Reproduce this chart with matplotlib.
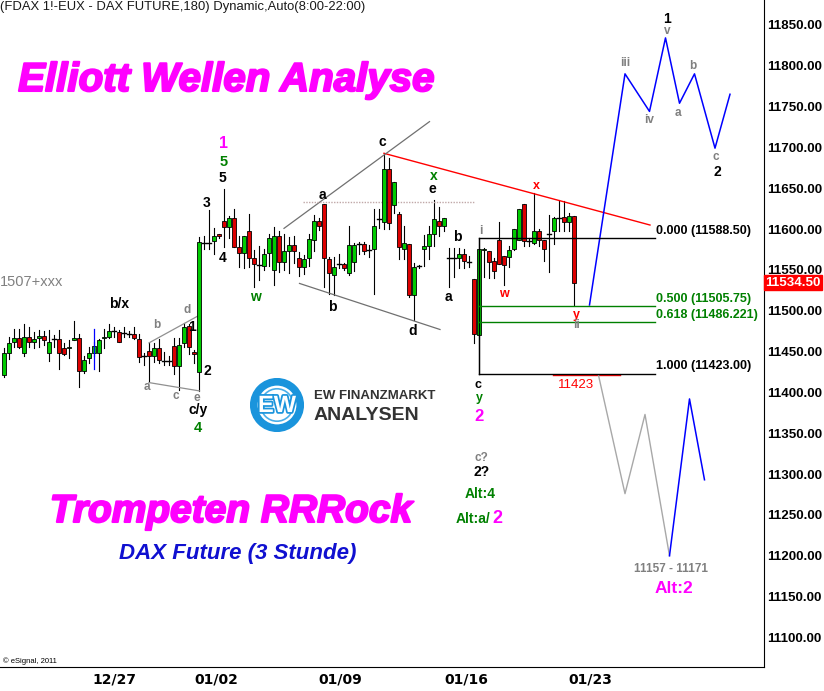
import matplotlib
matplotlib.use('Agg')
import matplotlib.pyplot as plt
import matplotlib.patheffects as pe
from matplotlib.patches import Circle, Rectangle
import numpy as np

plt.rcParams['font.family'] = ['Liberation Sans', 'DejaVu Sans']

# 3-hour FDAX candles (open, high, low, close), one entry per bar
opens = [11421, 11448, 11462, 11467, 11448, 11468, 11462, 11466, 11469, 11448,
         11465, 11465, 11454, 11454, 11464, 11467, 11426, 11442, 11448, 11448,
         11466, 11468, 11475, 11474, 11473, 11472, 11472, 11465, 11445, 11451,
         11444, 11454, 11439, 11439, 11457, 11432, 11460, 11481, 11450, 11425,
         11583, 11583, 11585, 11594, 11610, 11602, 11614, 11578, 11571, 11598,
         11564, 11556, 11555, 11571, 11550, 11592, 11560, 11573, 11580, 11564,
         11554, 11564, 11587, 11610, 11631, 11563, 11544, 11557, 11557, 11546,
         11560, 11582, 11582, 11574, 11576, 11612, 11609, 11674, 11629, 11618,
         11576, 11582, 11519, 11555, 11575, 11579, 11594, 11610, 11604, 11565,
         11565, 11564, 11570, 11560, 11539, 11470, 11574, 11573, 11561, 11587,
         11567, 11566, 11575, 11587, 11631, 11585, 11583, 11598, 11587, 11594,
         11597, 11614, 11615, 11609, 11616]
highs = [11454, 11468, 11477, 11477, 11484, 11480, 11474, 11476, 11475, 11476,
         11470, 11476, 11460, 11464, 11488, 11471, 11444, 11455, 11462, 11465,
         11478, 11484, 11480, 11476, 11480, 11475, 11480, 11472, 11448, 11460,
         11460, 11465, 11450, 11444, 11467, 11466, 11485, 11484, 11452, 11590,
         11592, 11623, 11601, 11594, 11649, 11616, 11625, 11591, 11592, 11618,
         11574, 11579, 11576, 11594, 11603, 11597, 11594, 11590, 11591, 11572,
         11568, 11594, 11617, 11614, 11631, 11566, 11566, 11569, 11559, 11604,
         11583, 11584, 11584, 11581, 11624, 11625, 11693, 11687, 11658, 11621,
         11604, 11582, 11559, 11556, 11593, 11604, 11636, 11627, 11613, 11577,
         11577, 11577, 11576, 11567, 11539, 11588, 11577, 11573, 11565, 11608,
         11567, 11579, 11600, 11625, 11631, 11589, 11644, 11600, 11587, 11617,
         11615, 11635, 11634, 11620, 11616]
lows = [11419, 11441, 11456, 11454, 11444, 11456, 11454, 11456, 11458, 11439,
        11456, 11429, 11446, 11442, 11464, 11406, 11424, 11436, 11444, 11426,
        11454, 11466, 11468, 11462, 11468, 11468, 11465, 11437, 11433, 11413,
        11437, 11436, 11433, 11433, 11422, 11403, 11456, 11447, 11436, 11402,
        11576, 11576, 11569, 11589, 11578, 11589, 11578, 11553, 11552, 11553,
        11529, 11537, 11550, 11555, 11531, 11548, 11550, 11546, 11558, 11543,
        11545, 11555, 11573, 11599, 11529, 11521, 11519, 11552, 11550, 11544,
        11549, 11569, 11570, 11566, 11520, 11601, 11600, 11600, 11620, 11563,
        11563, 11517, 11489, 11552, 11555, 11563, 11579, 11591, 11597, 11529,
        11541, 11552, 11552, 11554, 11461, 11423, 11541, 11540, 11540, 11557,
        11531, 11554, 11574, 11587, 11579, 11579, 11582, 11579, 11561, 11547,
        11582, 11597, 11597, 11598, 11507]
closes = [11448, 11461, 11467, 11456, 11468, 11462, 11465, 11469, 11464, 11462,
          11465, 11448, 11447, 11456, 11467, 11426, 11440, 11448, 11457, 11464,
          11468, 11475, 11475, 11462, 11473, 11472, 11466, 11443, 11445, 11444,
          11454, 11440, 11439, 11439, 11432, 11458, 11480, 11456, 11447, 11584,
          11583, 11583, 11592, 11591, 11603, 11613, 11578, 11571, 11592, 11565,
          11557, 11556, 11570, 11589, 11592, 11560, 11573, 11580, 11573, 11554,
          11563, 11588, 11610, 11604, 11565, 11546, 11554, 11557, 11552, 11580,
          11580, 11582, 11573, 11574, 11604, 11612, 11674, 11607, 11658, 11578,
          11583, 11519, 11554, 11555, 11579, 11594, 11612, 11604, 11613, 11565,
          11565, 11570, 11561, 11560, 11471, 11575, 11575, 11560, 11549, 11557,
          11556, 11574, 11600, 11625, 11585, 11585, 11598, 11587, 11576, 11594,
          11613, 11614, 11608, 11616, 11534.5]
last_price = 11534.50

date_labels = ['12/27', '01/02', '01/09', '01/16', '01/23']
date_pos = [22.0, 42.4, 67.2, 92.4, 117.2]
price_ticks = np.arange(11100, 11851, 50)

# Fibonacci retracement of the last swing
fib_high = 11588.50
fib_low = 11423.00
fib_levels = [0.0, 0.5, 0.618, 1.0]

# trend / wedge lines (bar index, price)
red_line_x, red_line_y = [76, 129.2], [11692.7, 11604.9]
wedge_up_x, wedge_up_y = [56, 85.1], [11600.8, 11731.5]
wedge_lo_x, wedge_lo_y = [59.1, 87.2], [11533.4, 11477.0]
dotted_x, dotted_y = [59.9, 94.2], [11632.7, 11632.7]
tri_up_x, tri_up_y = [29, 39.1], [11460.6, 11494.6]
tri_lo_x, tri_lo_y = [29, 39.1], [11412.0, 11401.8]
mark_x, mark_y = [109.8, 123.2], [11421, 11421]

# projected wave paths
main_path_x = [117.1, 124.2, 129.1, 132.3, 135.1, 138.1, 142.2, 145.2]
main_path_y = [11507, 11790, 11744, 11834, 11754, 11790, 11699, 11765]
alt_gray_x = [118.9, 124.2, 128.2, 133.1]
alt_gray_y = [11421, 11276, 11373, 11200]
alt_blue_x = [133.1, 137.1, 140.1]
alt_blue_y = [11200, 11392, 11293]

GREEN = '#008000'
GRAY = '#808080'
MAG = '#FF00FF'
RED = '#FF0000'

W, H = 824, 691
fig = plt.figure(figsize=(W / 100, H / 100), dpi=100)
ax = fig.add_axes([0, 24 / H, 764 / W, 667 / H])
ax.set_xlim(-0.8, 152)
ax.set_ylim(11063.8, 11880.4)

# candles
for i in range(len(opens)):
    o, h, l, c = opens[i], highs[i], lows[i], closes[i]
    ax.plot([i, i], [l, h], color='black', lw=0.8, zorder=2)
    if abs(c - o) < 0.5:
        ax.plot([i - 0.35, i + 0.35], [c, c], color='black', lw=1.0, zorder=3)
    else:
        col = '#00CC00' if c > o else '#DD0000'
        ax.add_patch(Rectangle((i - 0.32, min(o, c)), 0.64, abs(c - o),
                               facecolor=col, edgecolor='black', lw=0.6, zorder=3))

ax.plot([18, 18], [11429, 11478], color='blue', lw=0.9, zorder=4)

# lines
ax.plot(red_line_x, red_line_y, color=RED, lw=1.0)
ax.plot(wedge_up_x, wedge_up_y, color='#707070', lw=0.9)
ax.plot(wedge_lo_x, wedge_lo_y, color='#707070', lw=0.9)
ax.plot(dotted_x, dotted_y, color='#C0A8A8', lw=1.0, ls=(0, (1, 1)))
ax.plot(tri_up_x, tri_up_y, color='#909090', lw=0.9)
ax.plot(tri_lo_x, tri_lo_y, color='#909090', lw=0.9)
ax.plot(mark_x, mark_y, color=RED, lw=1.0)

# fib retracement
fib_x0, fib_x1 = 95, 130.2
ax.plot([fib_x0, fib_x0], [fib_low, fib_high], color='black', lw=1.0, zorder=4)
for lvl in fib_levels:
    price = fib_high - lvl * (fib_high - fib_low)
    col = 'black' if lvl in (0.0, 1.0) else GREEN
    ax.plot([fib_x0, fib_x1], [price, price], color=col, lw=1.0, zorder=4)
    s = f"{price:.3f}"
    if s.endswith('0'):
        s = s[:-1]
    ax.text(fib_x1 + 0.2, price + 9, f"{lvl:.3f} ({s})", color=col,
            fontsize=9, fontweight='bold', ha='left', va='center')

# projections
ax.plot(main_path_x, main_path_y, color='blue', lw=1.1)
ax.plot(alt_gray_x, alt_gray_y, color='#A8A8A8', lw=1.0)
ax.plot(alt_blue_x, alt_blue_y, color='blue', lw=1.1)

# wave labels
labels = [
    ('b/x', 23.0, 11508, 'black', 10), ('b', 30.6, 11482, GRAY, 8.5),
    ('d', 36.6, 11501, GRAY, 8.5), ('a', 28.6, 11406, GRAY, 8.5),
    ('c', 34.4, 11395, GRAY, 8.5), ('e', 38.6, 11393, GRAY, 8.5),
    ('1', 37.7, 11480, 'black', 10), ('2', 40.7, 11426, 'black', 10),
    ('c/y', 38.8, 11378, 'black', 10), ('4', 38.8, 11357, GREEN, 10.5),
    ('3', 40.6, 11632, 'black', 10), ('4', 43.7, 11565, 'black', 10),
    ('5', 43.7, 11662, 'black', 10), ('5', 43.9, 11682, GREEN, 10.5),
    ('1', 43.9, 11705, MAG, 11.5), ('w', 50.2, 11517, GREEN, 10),
    ('a', 63.7, 11642, 'black', 10), ('b', 65.7, 11505, 'black', 10),
    ('c', 75.7, 11706, 'black', 10), ('x', 85.9, 11665, GREEN, 10),
    ('e', 85.7, 11649, 'black', 10), ('d', 81.7, 11475, 'black', 10),
    ('a', 88.9, 11517, 'black', 10), ('b', 90.7, 11590, 'black', 10),
    ('i', 95.3, 11598, GRAY, 8.5), ('w', 99.9, 11521, RED, 9),
    ('x', 106.5, 11653, RED, 9), ('y', 114.4, 11495, RED, 9),
    ('ii', 114.5, 11482, GRAY, 8.5), ('c', 94.9, 11409, 'black', 9),
    ('y', 95.0, 11393, GREEN, 9), ('2', 95.0, 11370, MAG, 12),
    ('c?', 95.4, 11320, GRAY, 8.5), ('2?', 95.5, 11302, 'black', 10),
    ('Alt:4', 95.2, 11276, GREEN, 10),
    ('iii', 124.2, 11803, GRAY, 8.5), ('iv', 129.1, 11733, GRAY, 8.5),
    ('v', 132.7, 11842, GRAY, 8.5), ('1', 132.7, 11857, 'black', 10),
    ('a', 134.7, 11742, GRAY, 8.5), ('b', 137.7, 11800, GRAY, 8.5),
    ('c', 142.3, 11688, GRAY, 8.5), ('2', 142.7, 11670, 'black', 10),
    ('11157 - 11171', 133.5, 11184, GRAY, 8.5), ('Alt:2', 133.9, 11160, MAG, 12.5),
]
for txt, x, y, col, size in labels:
    ax.text(x, y, txt, color=col, fontsize=size, fontweight='bold',
            ha='center', va='center', zorder=6)
ax.text(97.3, 11245, 'Alt:a/', color=GREEN, fontsize=10, fontweight='bold',
        ha='right', va='center')
ax.text(97.7, 11245, '2', color=MAG, fontsize=13, fontweight='bold',
        ha='left', va='center')
ax.text(114.4, 11409, '11423', color=RED, fontsize=9.5, ha='center', va='center')
ax.text(-0.8, 11535, '1507+xxx', color=GRAY, fontsize=10.5, ha='left', va='center')

# axes styling
for side in ('top', 'left'):
    ax.spines[side].set_visible(False)
ax.yaxis.tick_right()
ax.set_yticks(price_ticks)
ax.set_yticklabels([f"{v:.2f}" for v in price_ticks], fontweight='bold')
ax.set_xticks(date_pos)
ax.set_xticklabels(date_labels, fontweight='bold',
                   fontfamily=['Liberation Sans Narrow', 'DejaVu Sans'])
ax.tick_params(axis='y', length=0, pad=2, labelsize=9.6)
ax.tick_params(axis='x', length=0, pad=4, labelsize=10)
ax.text(1.002, last_price, f"{last_price:.2f}", transform=ax.get_yaxis_transform(),
        color='white', fontsize=9.6, fontweight='bold', ha='left', va='center',
        bbox=dict(boxstyle='square,pad=0.1', fc=RED, ec=RED), zorder=10, clip_on=False)

# header and big titles
fig.text(0.5 / W, 1 - 7 / H, '(FDAX 1!-EUX - DAX FUTURE,180) Dynamic,Auto(8:00-22:00)',
         fontsize=9.4, color='#1a1a1a', ha='left', va='center')
stroke = [pe.withStroke(linewidth=1.5, foreground=MAG)]
fig.text(226 / W, 1 - 80 / H, 'Elliott Wellen Analyse', color=MAG, fontsize=29,
         fontweight='bold', fontstyle='italic', ha='center', va='center',
         path_effects=stroke)
fig.text(231 / W, 1 - 512 / H, 'Trompeten RRRock', color=MAG, fontsize=28,
         fontweight='bold', fontstyle='italic', ha='center', va='center',
         path_effects=stroke)
fig.text(238 / W, 1 - 553 / H, 'DAX Future (3 Stunde)', color='#1010D0', fontsize=16,
         fontweight='bold', fontstyle='italic', ha='center', va='center')
fig.text(3 / W, 1 - 661 / H, '© eSignal, 2011', fontsize=5.5, color='black',
         ha='left', va='center')

# logo
lax = fig.add_axes([250 / W, 1 - 432 / H, 54 / W, 54 / H])
lax.set_xlim(-1, 1)
lax.set_ylim(-1, 1)
lax.set_aspect('equal')
lax.axis('off')
lax.add_patch(Circle((0, 0), 0.86, fc='none', ec='#1a94dc', lw=5.5))
lax.add_patch(Circle((0, 0), 0.6, fc='white', ec='#4aaee8', lw=1.2))
lax.text(0, -0.02, 'EW', color='white', fontsize=17, fontweight='bold',
         ha='center', va='center',
         path_effects=[pe.withStroke(linewidth=2.5, foreground='#1a94dc')])
fig.text(314 / W, 1 - 396 / H, 'EW FINANZMARKT', color='#333333', fontsize=9.5,
         fontweight='bold', ha='left', va='center')
fig.text(314 / W, 1 - 415 / H, 'ANALYSEN', color='#333333', fontsize=14,
         fontweight='bold', ha='left', va='center')

fig.savefig('out.png', dpi=100)
